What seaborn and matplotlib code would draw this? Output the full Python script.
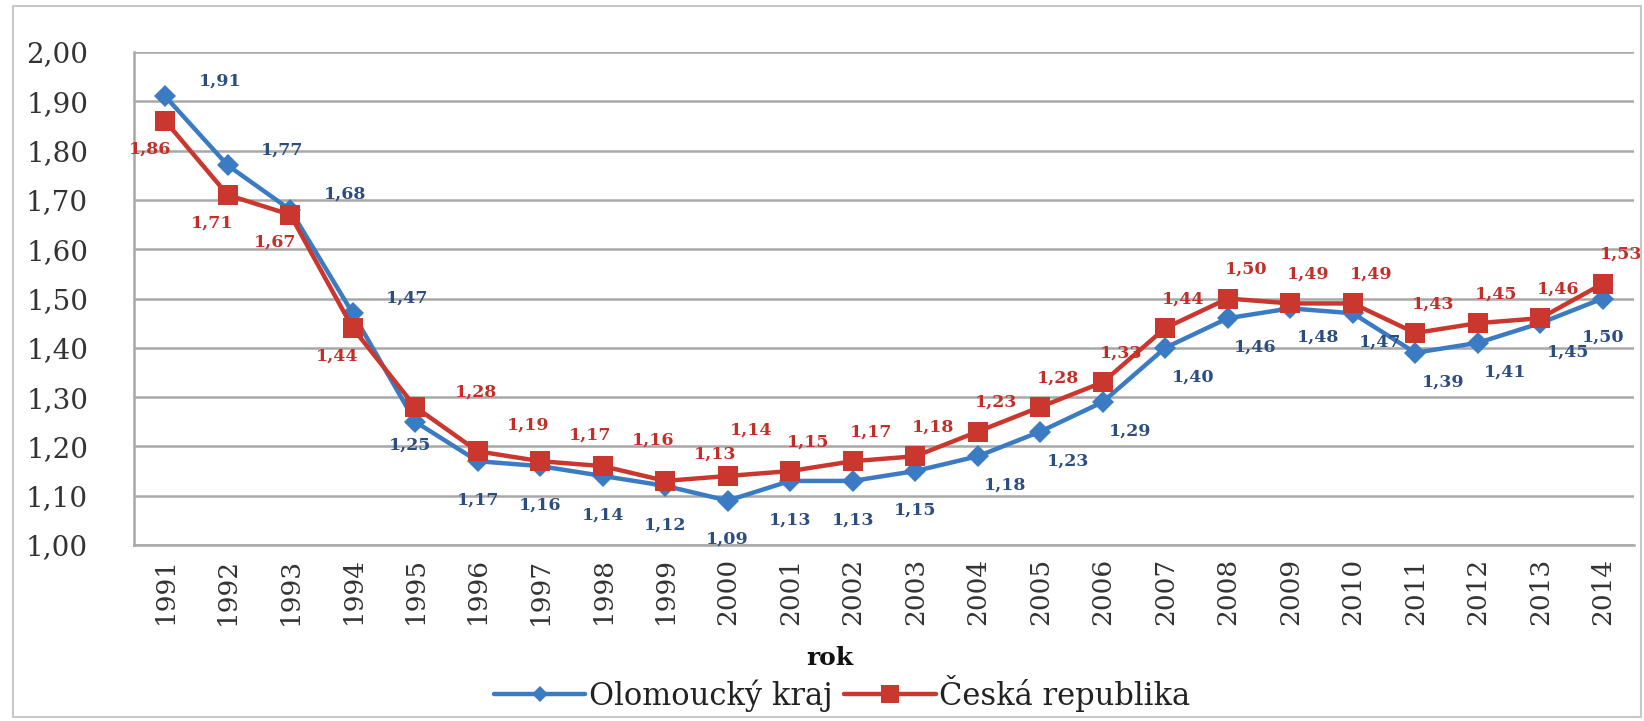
import matplotlib
matplotlib.use('Agg')
from matplotlib import pyplot as plt
from matplotlib.ticker import FuncFormatter
import pandas as pd
import seaborn as sns

years = list(range(1991, 2015))
olomoucky = [1.91, 1.77, 1.68, 1.47, 1.25, 1.17, 1.16, 1.14, 1.12, 1.09, 1.13, 1.13,
             1.15, 1.18, 1.23, 1.29, 1.40, 1.46, 1.48, 1.47, 1.39, 1.41, 1.45, 1.50]
cesko = [1.86, 1.71, 1.67, 1.44, 1.28, 1.19, 1.17, 1.16, 1.13, 1.14, 1.15, 1.17,
         1.18, 1.23, 1.28, 1.33, 1.44, 1.50, 1.49, 1.49, 1.43, 1.45, 1.46, 1.53]
series_names = ['Olomoucký kraj', 'Česká republika']
y_ticks = [1.00, 1.10, 1.20, 1.30, 1.40, 1.50, 1.60, 1.70, 1.80, 1.90, 2.00]

BLUE = '#3b7bc3'
RED = '#c9372f'
BLUE_TXT = '#2b4d80'
RED_TXT = '#c42e28'


def comma(v, _=None):
    return f'{v:.2f}'.replace('.', ',')


def blue_offset(yr):
    # where the label of the Olomoucky value sits, in points
    if yr <= 1994:
        return (24, 11), 'left'
    if yr == 1995:
        return (-4, -17), 'center'
    if yr <= 2003 or yr == 2014:
        return (0, -28), 'center'
    return (20, -21), 'center'


def red_offset(yr):
    if yr <= 1994:
        return (-11, -20), 'center'
    if yr == 1995:
        return (44, 11), 'center'
    if yr <= 1999:
        return (36, 19), 'center'
    if yr == 2000:
        return (17, 33), 'center'
    return (13, 21), 'center'


def main():
    sns.set_theme(style='white')
    plt.rcParams['font.family'] = ['DejaVu Serif']

    df = pd.DataFrame({
        'rok': years * 2,
        'value': olomoucky + cesko,
        'serie': [series_names[0]] * len(years) + [series_names[1]] * len(years),
    })

    fig = plt.figure(figsize=(16.44, 7.21), dpi=100)
    ax = fig.add_axes([134 / 1644, 1 - 545 / 721, (1634 - 134) / 1644, (545 - 52) / 721])

    sns.lineplot(data=df, x='rok', y='value', hue='serie', style='serie',
                 palette=[BLUE, RED], markers={series_names[0]: 'D', series_names[1]: 's'},
                 dashes=False, linewidth=3.2, markeredgewidth=0, ax=ax, zorder=3)
    ax.lines[0].set_markersize(11)
    ax.lines[1].set_markersize(15)

    ax.set_xlim(years[0] - 0.5, years[-1] + 0.5)
    ax.set_ylim(1.0, 2.0)
    ax.set_yticks(y_ticks)
    ax.yaxis.set_major_formatter(FuncFormatter(comma))
    ax.set_xticks(years)
    ax.set_xticklabels([str(y) for y in years], rotation=90, fontsize=19)
    ax.tick_params(axis='y', labelsize=20, pad=27, colors='#333333')
    ax.tick_params(axis='x', pad=3, colors='#333333')
    ax.grid(axis='y', color='#a8a8a8', linewidth=1.8)
    ax.set_axisbelow(True)
    for side in ['top', 'right']:
        ax.spines[side].set_visible(False)
    for side in ['left', 'bottom']:
        ax.spines[side].set_color('#a8a8a8')
        ax.spines[side].set_linewidth(1.8)

    # data labels
    for yr, v in zip(years, olomoucky):
        off, ha = blue_offset(yr)
        ax.annotate(comma(v), (yr, v), xytext=off, textcoords='offset points',
                    ha=ha, va='center', fontsize=12.5, fontweight='bold', color=BLUE_TXT)
    for yr, v in zip(years, cesko):
        off, ha = red_offset(yr)
        ax.annotate(comma(v), (yr, v), xytext=off, textcoords='offset points',
                    ha=ha, va='center', fontsize=12.5, fontweight='bold', color=RED_TXT)

    ax.set_ylabel('')
    ax.set_xlabel('')
    fig.text(0.5 + 8 / 1644, 1 - 658 / 721, 'rok', ha='center', va='center',
             fontsize=18, fontweight='bold', color='#111111')

    handles, labels = ax.get_legend_handles_labels()
    ax.legend_.remove()
    leg = fig.legend(handles, labels, loc='center', bbox_to_anchor=(0.5 + 20 / 1644, 1 - 693 / 721),
                     ncol=2, frameon=False, fontsize=22, handlelength=3.0,
                     handletextpad=0.1, columnspacing=0.4)
    for t in leg.get_texts():
        t.set_color('#222222')
    leg_lines = leg.get_lines()
    leg_lines[0].set_markersize(8)
    leg_lines[1].set_markersize(13)

    border = plt.Rectangle((0.008, 0.006), 0.99, 0.986, transform=fig.transFigure,
                           fill=False, edgecolor='#c8c8c8', linewidth=1.5)
    fig.patches.append(border)

    fig.savefig('out.png', dpi=100)


if __name__ == '__main__':
    main()
